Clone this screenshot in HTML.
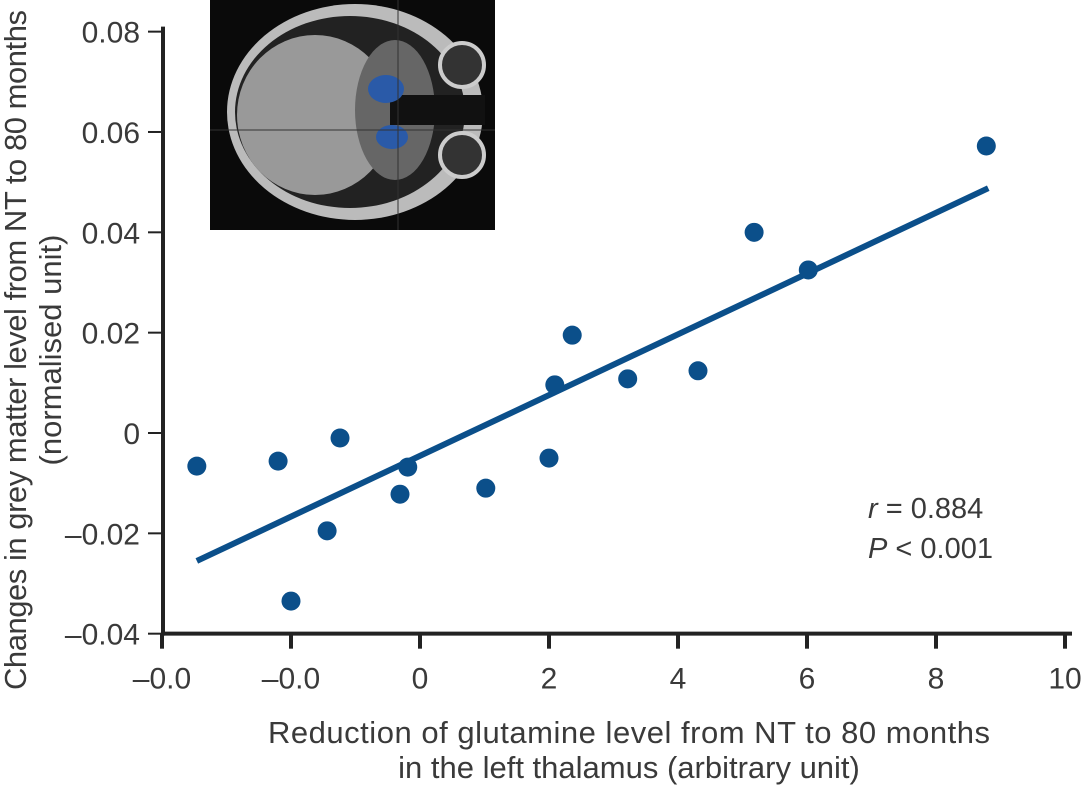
<!DOCTYPE html>
<html><head><meta charset="utf-8"><style>
body{margin:0;background:#fff;width:1083px;height:788px;overflow:hidden}
svg text{font-family:"Liberation Sans",sans-serif;fill:#3a3a3a}
</style></head><body>
<svg id="c" width="1083" height="788">
<g id="inset">
<rect x="210" y="0" width="285" height="230" fill="#0a0a0a"/>
<ellipse cx="355" cy="112" rx="128" ry="108" fill="#bbb"/>
<ellipse cx="350" cy="112" rx="115" ry="96" fill="#222"/>
<ellipse cx="315" cy="115" rx="78" ry="80" fill="#999"/>
<ellipse cx="395" cy="110" rx="40" ry="70" fill="#666"/>
<rect x="390" y="95" width="95" height="30" fill="#111"/>
<circle cx="462" cy="65" r="22" fill="#333" stroke="#ccc" stroke-width="4"/>
<circle cx="462" cy="155" r="22" fill="#333" stroke="#ccc" stroke-width="4"/>
<ellipse cx="386" cy="89" rx="18" ry="14" fill="#2a5aa8"/>
<ellipse cx="392" cy="137" rx="16" ry="12" fill="#2a5aa8"/>
<line x1="210" y1="130" x2="495" y2="130" stroke="#333"/>
<line x1="398" y1="0" x2="398" y2="230" stroke="#333"/>
</g>
<g id="axes"></g>
<g id="marks"></g>
<text x="868" y="518" font-size="29"><tspan font-style="italic">r</tspan> = 0.884</text>
<text x="868" y="558" font-size="29"><tspan font-style="italic">P</tspan> &lt; 0.001</text>
<text x="629" y="743" font-size="31" text-anchor="middle" textLength="722">Reduction of glutamine level from NT to 80 months</text>
<text x="629" y="778" font-size="31" text-anchor="middle">in the left thalamus (arbitrary unit)</text>
<text transform="translate(26,350) rotate(-90)" font-size="31" text-anchor="middle" textLength="680">Changes in grey matter level from NT to 80 months</text>
<text transform="translate(61,350) rotate(-90)" font-size="31" text-anchor="middle">(normalised unit)</text>
</svg>
<script>
const xTicks=[-4,-2,0,2,4,6,8,10];
const xTickLabels=["\u20130.0","\u20130.0","0","2","4","6","8","10"];
const yTicks=[-0.04,-0.02,0,0.02,0.04,0.06,0.08];
const yTickLabels=["\u20130.04","\u20130.02","0","0.02","0.04","0.06","0.08"];
const xVals=[-3.46,-2.2,-2.0,-1.44,-1.24,-0.31,-0.19,1.02,2.0,2.09,2.36,3.22,4.31,5.18,6.02,8.78];
const yVals=[-0.0066,-0.0056,-0.0335,-0.0195,-0.001,-0.0122,-0.0068,-0.011,-0.005,0.0096,0.0195,0.0108,0.0124,0.040,0.0325,0.0572];
const fitX=[-3.46,8.81];
const fitSlope=0.006055, fitIntercept=-0.00455;
const X=v=>420+v*64.5, Y=v=>433-v*5017;
const NS="http://www.w3.org/2000/svg";
function mk(p,t,a){const e=document.createElementNS(NS,t);for(const k in a)e.setAttribute(k,a[k]);p.appendChild(e);return e;}
const ax=document.getElementById('axes'), mg=document.getElementById('marks');
let e=mk(ax,'line',{x1:163,y1:Y(0.08)-5,x2:163,y2:Y(-0.04)+2,stroke:'#222','stroke-width':4});


e=mk(ax,'line',{x1:161,y1:Y(-0.04),x2:1072,y2:Y(-0.04),stroke:'#222','stroke-width':4});


xTicks.forEach((v,i)=>{const x=X(v);
 let t=mk(ax,'line',{x1:x,y1:Y(-0.04),x2:x,y2:Y(-0.04)+15,stroke:'#222','stroke-width':4});
 
 
 let l=mk(ax,'text',{x:x,y:Y(-0.04)+55,'font-size':30,'text-anchor':'middle'});l.textContent=xTickLabels[i];
 
 
});
yTicks.forEach((v,i)=>{const y=Y(v);
 let t=mk(ax,'line',{x1:148,y1:y,x2:163,y2:y,stroke:'#222','stroke-width':2});
 
 
 let l=mk(ax,'text',{x:140,y:y+11,'font-size':30,'text-anchor':'end'});l.textContent=yTickLabels[i];
 
 
});
e=mk(mg,'line',{x1:X(fitX[0]),y1:Y(fitSlope*fitX[0]+fitIntercept),x2:X(fitX[1]),y2:Y(fitSlope*fitX[1]+fitIntercept),stroke:'#0b4f8a','stroke-width':6});


xVals.forEach((v,i)=>{
 let c=mk(mg,'circle',{cx:X(v),cy:Y(yVals[i]),r:9.5,fill:'#0b4f8a'});
 
 
});
</script>
</body></html>
